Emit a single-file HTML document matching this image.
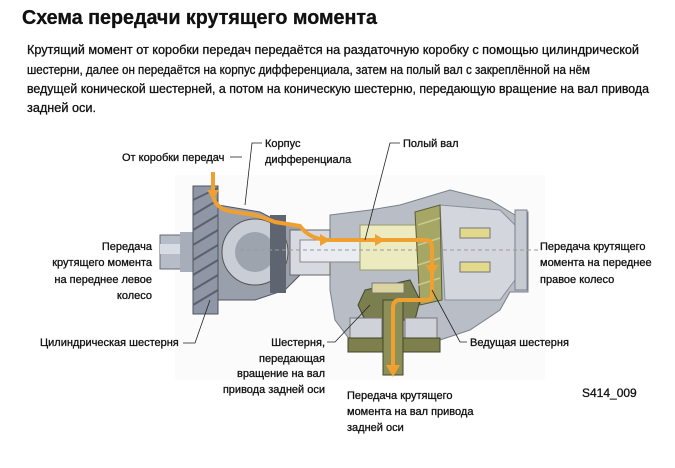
<!DOCTYPE html>
<html><head><meta charset="utf-8"><style>
html,body{margin:0;padding:0;background:#fff}
svg{display:block}
text{font-family:"Liberation Sans","DejaVu Sans",sans-serif;fill:#111;stroke:#111;stroke-width:0.3}
.l{font-size:11px}
</style></head><body>
<svg width="675" height="468" viewBox="0 0 675 468" xmlns="http://www.w3.org/2000/svg">
<text x="22" y="24" font-size="20" font-weight="bold" textLength="355" lengthAdjust="spacingAndGlyphs">Схема передачи крутящего момента</text>
<g font-size="12.5">
<text x="27" y="54" textLength="612" lengthAdjust="spacingAndGlyphs">Крутящий момент от коробки передач передаётся на раздаточную коробку с помощью цилиндрической</text>
<text x="27" y="74" textLength="563" lengthAdjust="spacingAndGlyphs">шестерни, далее он передаётся на корпус дифференциала, затем на полый вал с закреплённой на нём</text>
<text x="27" y="93" textLength="622" lengthAdjust="spacingAndGlyphs">ведущей конической шестерней, а потом на коническую шестерню, передающую вращение на вал привода</text>
<text x="27" y="112" textLength="69" lengthAdjust="spacingAndGlyphs">задней оси.</text>
</g>
<!-- drawing -->
<rect x="175" y="175" width="370" height="205" fill="#fbfbfb"/>
<path d="M330 215 L370 210 L400 205 L450 190 L490 200 L515 215 L528 212 L528 292 L510 292 L500 310 L470 330 L440 340 L350 340 L335 320 L330 290 Z" fill="#b9bec6" stroke="#7a808a" stroke-width="1"/>
<path d="M440 205 L500 210 L515 225 L515 280 L500 300 L445 300 Z" fill="#d3d6dc" stroke="#8a9099"/>
<rect x="515" y="210" width="12" height="80" fill="#c6cad1" stroke="#7a808a"/>
<rect x="460" y="228" width="30" height="10" fill="#e3d98d" stroke="#777"/>
<rect x="460" y="262" width="30" height="10" fill="#e3d98d" stroke="#777"/>
<rect x="160" y="235" width="100" height="34" fill="#b6bcc8" stroke="#666a75"/>
<rect x="160" y="244" width="100" height="10" fill="#d7dbe3"/>
<rect x="180" y="232" width="16" height="40" fill="#a8adba"/>
<rect x="193" y="186" width="25" height="128" fill="#8f96a5" stroke="#4f5561"/>
<g stroke="#5a606c" stroke-width="2">
<line x1="193" y1="200" x2="218" y2="188"/><line x1="193" y1="215" x2="218" y2="200"/><line x1="193" y1="230" x2="218" y2="215"/><line x1="193" y1="245" x2="218" y2="230"/><line x1="193" y1="260" x2="218" y2="245"/><line x1="193" y1="275" x2="218" y2="260"/><line x1="193" y1="290" x2="218" y2="275"/><line x1="193" y1="305" x2="218" y2="290"/>
</g>
<path d="M218 205 L260 212 L285 225 L300 225 L315 238 L330 240 L330 266 L300 275 L285 290 L255 300 L218 300 Z" fill="#9aa0ab" stroke="#4f5561"/>
<circle cx="255" cy="252" r="33" fill="#c9cdd5" stroke="#555"/>
<circle cx="255" cy="252" r="20" fill="#9ea4ae"/>
<rect x="270" y="215" width="16" height="78" fill="#5f6570"/>
<rect x="290" y="230" width="40" height="45" fill="#d6d9df" stroke="#666"/>
<rect x="300" y="240" width="130" height="22" fill="#e9ecf0" stroke="#888"/>
<rect x="360" y="225" width="70" height="45" fill="#ecebbf" stroke="#999a70"/>
<line x1="240" y1="250" x2="540" y2="250" stroke="#999" stroke-dasharray="4,3"/>
<path d="M415 212 L440 205 L442 300 L420 305 Z" fill="#a7a765" stroke="#5c5c35"/>
<g stroke="#ccc98e" stroke-width="1.5"><line x1="418" y1="225" x2="440" y2="218"/><line x1="418" y1="245" x2="440" y2="238"/><line x1="418" y1="265" x2="440" y2="258"/><line x1="418" y1="285" x2="440" y2="278"/></g>
<path d="M365 290 L410 280 L420 300 L415 320 L365 320 L358 305 Z" fill="#7b7e4f" stroke="#44462a"/>
<rect x="372" y="283" width="32" height="10" fill="#d9d4a0" stroke="#777"/>
<rect x="350" y="318" width="32" height="24" fill="#cfd2d8" stroke="#777"/>
<rect x="405" y="318" width="32" height="24" fill="#cfd2d8" stroke="#777"/>
<rect x="348" y="338" width="92" height="14" fill="#7d7f4d" stroke="#44462a"/>
<rect x="383" y="300" width="20" height="75" fill="#8c8f57" stroke="#44462a"/>
<path d="M213 172 L213 195 Q215 210 235 212 L255 215 Q265 218 275 222 L300 226 Q310 240 330 240 L425 240 Q432 240 432 248 L432 296 Q432 300 425 300 L400 300 Q393 300 393 308 L393 368" fill="none" stroke="#f0a030" stroke-width="4"/>
<path d="M386 365 L400 365 L393 377 Z" fill="#f0a030"/>
<path d="M207 190 L213 200 L219 190 Z" fill="#f0a030"/>
<path d="M425 265 L432 275 L439 265 Z" fill="#f0a030"/>
<path d="M320 234 L330 240 L320 246 Z" fill="#f0a030"/>
<path d="M375 234 L385 240 L375 246 Z" fill="#f0a030"/>
<g stroke="#222" stroke-width="0.8" fill="none">
<line x1="230" y1="157" x2="242" y2="157"/>
<polyline points="262,143 252,143 245,205"/>
<polyline points="400,143 390,143 365,240"/>
<polyline points="183,343 195,343 210,300"/>
<polyline points="327,342 335,342 370,305"/>
<polyline points="467,342 460,342 432,290"/>
</g>
<g class="l">
<text x="122" y="161">От коробки передач</text>
<text x="265" y="147">Корпус</text>
<text x="265" y="163">дифференциала</text>
<text x="403" y="147">Полый вал</text>
<text x="152" y="250" text-anchor="end">Передача</text>
<text x="152" y="266" text-anchor="end">крутящего момента</text>
<text x="152" y="283" text-anchor="end">на переднее левое</text>
<text x="152" y="299" text-anchor="end">колесо</text>
<text x="540" y="250">Передача крутящего</text>
<text x="540" y="266">момента на переднее</text>
<text x="540" y="283">правое колесо</text>
<text x="40" y="346">Цилиндрическая шестерня</text>
<text x="325" y="346" text-anchor="end">Шестерня,</text>
<text x="325" y="362" text-anchor="end">передающая</text>
<text x="325" y="377" text-anchor="end">вращение на вал</text>
<text x="325" y="393" text-anchor="end">привода задней оси</text>
<text x="470" y="346">Ведущая шестерня</text>
<text x="347" y="399">Передача крутящего</text>
<text x="347" y="415">момента на вал привода</text>
<text x="347" y="431">задней оси</text>
<text x="582" y="397" font-size="12">S414_009</text>
</g>
</svg>
</body></html>
